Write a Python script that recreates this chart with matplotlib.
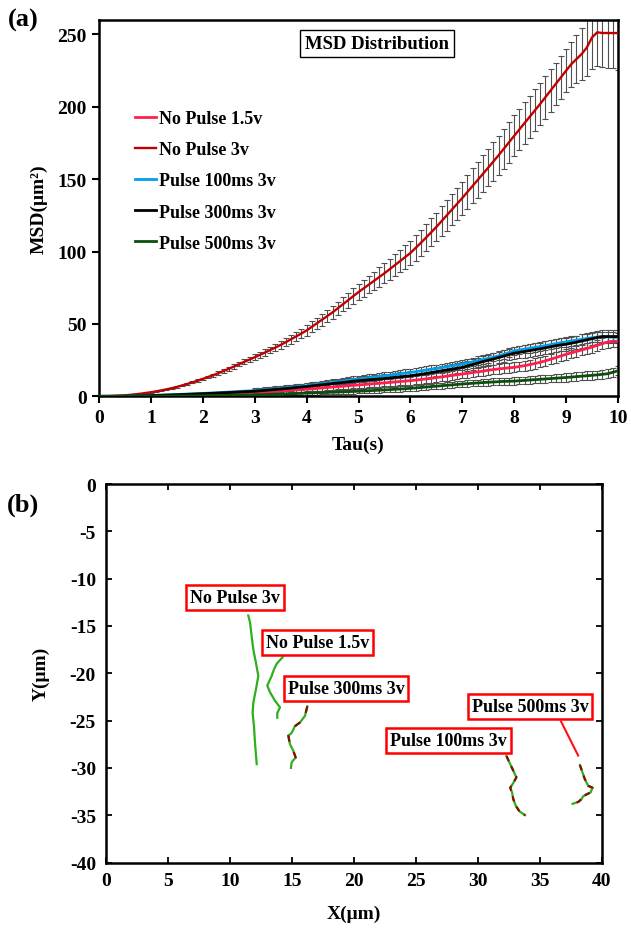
import numpy as np
import matplotlib
matplotlib.use("Agg")
import matplotlib.pyplot as plt

plt.rcParams['font.family'] = ['Liberation Serif', 'DejaVu Serif']
plt.rcParams['font.weight'] = 'bold'
plt.rcParams['axes.labelweight'] = 'bold'
plt.rcParams['axes.unicode_minus'] = False

# ---------------- Panel (a) data ----------------
tau = [round(0.1 * i, 1) for i in range(101)]

series_names = ["No Pulse 1.5v", "No Pulse 3v", "Pulse 100ms 3v", "Pulse 300ms 3v", "Pulse 500ms 3v"]
series_colors = ["#FF1F4F", "#C00000", "#00A0E8", "#000000", "#0B4F0B"]

msd_np15 = [0, 0.0, 0.01, 0.02, 0.04, 0.06, 0.09, 0.13, 0.18, 0.24,
            0.3, 0.37, 0.45, 0.53, 0.62, 0.72, 0.82, 0.93, 1.04, 1.12,
            1.2, 1.32, 1.45, 1.6, 1.76, 1.92, 2.1, 2.3, 2.5, 2.65,
            2.8, 2.98, 3.18, 3.4, 3.62, 3.84, 4.07, 4.3, 4.54, 4.77,
            5.0, 5.25, 5.5, 5.8, 6.1, 6.4, 6.7, 7.0, 7.3, 7.55,
            7.8, 8.1, 8.4, 8.7, 9.0, 9.3, 9.6, 9.9, 10.2, 10.5,
            10.8, 11.2, 11.6, 12.0, 12.4, 12.9, 13.4, 13.9, 14.4, 14.9,
            15.4, 15.9, 16.4, 16.9, 17.4, 18.0, 18.5, 18.9, 19.3, 19.7,
            20.0, 20.6, 21.2, 21.9, 22.7, 23.5, 24.5, 25.6, 26.7, 27.9,
            29.0, 30.0, 31.0, 32.0, 33.0, 34.0, 35.2, 36.4, 37.6, 38.0,
            38.0]

msd_np3 = [0, 0.03, 0.1, 0.25, 0.45, 0.7, 1.0, 1.4, 1.8, 2.3,
           2.8, 3.4, 4.1, 4.8, 5.6, 6.5, 7.5, 8.5, 9.6, 10.8,
           12.0, 13.3, 14.6, 16.0, 17.5, 19.0, 20.6, 22.2, 23.8, 25.4,
           27.0, 28.6, 30.3, 32.0, 33.7, 35.5, 37.4, 39.4, 41.4, 43.4,
           45.5, 48.0, 50.5, 53.0, 55.5, 58.0, 60.8, 63.6, 66.4, 69.2,
           72.0, 74.6, 77.2, 79.8, 82.4, 85.0, 87.8, 90.6, 93.4, 96.2,
           99.0, 102.5, 106.0, 109.6, 113.3, 117.0, 121.0, 125.0, 129.0, 133.0,
           137.0, 141.2, 145.4, 149.6, 153.8, 158.0, 162.3, 166.6, 171.0, 175.5,
           180.0, 184.4, 188.8, 193.2, 197.6, 202.0, 206.6, 211.2, 215.8, 220.4,
           225.0, 229.5, 233.0, 236.5, 241.0, 248.0, 251.5, 251.0, 251.0, 251.0,
           251.0]

msd_p100 = [0, 0.01, 0.03, 0.06, 0.1, 0.15, 0.22, 0.3, 0.4, 0.5,
            0.6, 0.72, 0.84, 0.97, 1.1, 1.24, 1.39, 1.54, 1.7, 1.85,
            2.0, 2.17, 2.35, 2.54, 2.73, 2.93, 3.13, 3.33, 3.54, 3.72,
            3.9, 4.2, 4.5, 4.8, 5.1, 5.45, 5.8, 6.15, 6.5, 6.9,
            7.3, 7.75, 8.2, 8.65, 9.1, 9.55, 10.0, 10.5, 11.0, 11.45,
            11.9, 12.35, 12.8, 13.25, 13.7, 14.15, 14.6, 15.1, 15.55, 16.0,
            16.5, 17.0, 17.55, 18.1, 18.65, 19.2, 19.8, 20.4, 21.0, 21.6,
            22.2, 23.0, 23.8, 24.6, 25.4, 26.2, 27.0, 28.0, 29.0, 30.2,
            31.4, 32.0, 32.6, 33.2, 33.8, 34.4, 35.0, 35.7, 36.4, 37.0,
            37.6, 38.2, 38.8, 39.4, 40.0, 40.5, 41.0, 41.1, 41.0, 40.8,
            40.6]

msd_p300 = [0, 0.01, 0.02, 0.05, 0.08, 0.12, 0.18, 0.25, 0.33, 0.41,
            0.5, 0.6, 0.7, 0.82, 0.95, 1.08, 1.22, 1.36, 1.5, 1.65,
            1.8, 1.95, 2.1, 2.26, 2.43, 2.6, 2.78, 2.97, 3.16, 3.33,
            3.5, 3.8, 4.1, 4.4, 4.7, 5.0, 5.35, 5.7, 6.05, 6.4,
            6.8, 7.2, 7.6, 8.0, 8.4, 8.8, 9.2, 9.6, 10.0, 10.4,
            10.8, 11.1, 11.4, 11.7, 12.0, 12.3, 12.7, 13.1, 13.5, 13.8,
            14.2, 14.7, 15.2, 15.8, 16.4, 17.0, 17.6, 18.2, 18.8, 19.4,
            20.0, 21.0, 22.0, 23.0, 24.0, 24.9, 25.8, 26.8, 27.8, 28.8,
            29.8, 30.4, 31.0, 31.6, 32.2, 32.8, 33.5, 34.2, 34.9, 35.5,
            36.0, 36.7, 37.4, 38.2, 39.0, 39.8, 40.6, 41.3, 41.3, 41.3,
            41.3]

msd_p500 = [0, 0, 0, 0.01, 0.02, 0.03, 0.04, 0.05, 0.07, 0.09,
            0.1, 0.12, 0.14, 0.17, 0.2, 0.23, 0.27, 0.31, 0.35, 0.38,
            0.4, 0.45, 0.5, 0.55, 0.6, 0.66, 0.72, 0.8, 0.87, 0.94,
            1.0, 1.1, 1.2, 1.3, 1.4, 1.5, 1.62, 1.75, 1.9, 2.05,
            2.2, 2.32, 2.44, 2.57, 2.7, 2.83, 2.96, 3.1, 3.23, 3.36,
            3.5, 3.68, 3.86, 4.04, 4.22, 4.4, 4.6, 4.85, 5.05, 5.25,
            5.5, 5.8, 6.1, 6.4, 6.7, 7.0, 7.3, 7.6, 7.9, 8.2,
            8.5, 8.75, 9.0, 9.25, 9.5, 9.7, 9.9, 10.1, 10.3, 10.4,
            10.5, 10.75, 11.0, 11.25, 11.5, 11.75, 12.0, 12.25, 12.5, 12.75,
            13.0, 13.3, 13.6, 13.9, 14.2, 14.5, 14.8, 15.2, 15.6, 16.6,
            17.6]

err_np3 = [0, 0, 0.01, 0.02, 0.04, 0.06, 0.08, 0.1, 0.13, 0.17,
           0.2, 0.25, 0.3, 0.35, 0.42, 0.5, 0.57, 0.65, 0.73, 0.82,
           0.9, 1.0, 1.1, 1.2, 1.3, 1.4, 1.5, 1.6, 1.7, 1.8,
           2.0, 2.1, 2.2, 2.4, 2.5, 2.7, 2.8, 3.0, 3.1, 3.3,
           3.5, 3.7, 3.9, 4.1, 4.3, 4.5, 4.7, 4.9, 5.1, 5.3,
           5.6, 5.8, 6.0, 6.3, 6.6, 6.9, 7.2, 7.5, 7.8, 8.1,
           8.4, 8.7, 9.0, 9.3, 9.6, 9.9, 10.2, 10.5, 10.8, 11.1,
           11.4, 11.7, 12.0, 12.3, 12.6, 12.9, 13.2, 13.5, 13.8, 14.0,
           14.2, 14.4, 14.5, 14.6, 14.6, 14.7, 14.7, 14.7, 14.7, 14.8,
           15.0, 15.5, 16.5, 18.0, 20.0, 22.0, 23.0, 23.5, 24.0, 24.5,
           25.5]

# lower series: error bars recorded from tau = 3.0 s onward
err_low_blue = [1.5, 1.5, 1.6, 1.6, 1.7, 1.7, 1.8, 1.8, 1.9, 1.9,
                2.0, 2.0, 2.0, 2.1, 2.1, 2.1, 2.2, 2.2, 2.2, 2.3,
                2.3, 2.3, 2.4, 2.4, 2.4, 2.5, 2.5, 2.5, 2.5, 2.6,
                2.6, 2.6, 2.6, 2.7, 2.7, 2.7, 2.7, 2.8, 2.8, 2.8,
                2.8, 2.8, 2.9, 2.9, 2.9, 2.9, 2.9, 3.0, 3.0, 3.0,
                3.0, 3.0, 3.0, 3.1, 3.1, 3.1, 3.1, 3.1, 3.2, 3.2,
                3.2, 3.2, 3.2, 3.3, 3.3, 3.3, 3.3, 3.3, 3.4, 3.4,
                3.4]
err_low_black = [1.6, 1.6, 1.7, 1.7, 1.8, 1.8, 1.9, 1.9, 2.0, 2.0,
                 2.1, 2.1, 2.2, 2.2, 2.3, 2.3, 2.4, 2.4, 2.5, 2.5,
                 2.6, 2.6, 2.7, 2.7, 2.8, 2.8, 2.9, 2.9, 3.0, 3.0,
                 3.1, 3.1, 3.2, 3.2, 3.3, 3.3, 3.4, 3.4, 3.5, 3.5,
                 3.6, 3.6, 3.7, 3.7, 3.8, 3.8, 3.9, 3.9, 4.0, 4.0,
                 4.1, 4.1, 4.2, 4.2, 4.3, 4.3, 4.4, 4.4, 4.5, 4.5,
                 4.5, 4.6, 4.6, 4.6, 4.7, 4.7, 4.7, 4.8, 4.8, 4.8,
                 4.8]
err_low_pink = [1.2, 1.2, 1.3, 1.3, 1.4, 1.4, 1.5, 1.5, 1.6, 1.6,
                1.7, 1.7, 1.8, 1.8, 1.9, 1.9, 2.0, 2.0, 2.1, 2.1,
                2.2, 2.2, 2.3, 2.3, 2.4, 2.4, 2.5, 2.5, 2.6, 2.6,
                2.7, 2.7, 2.8, 2.8, 2.9, 2.9, 3.0, 3.0, 3.0, 3.1,
                3.1, 3.1, 3.2, 3.2, 3.2, 3.3, 3.3, 3.3, 3.4, 3.4,
                3.4, 3.4, 3.5, 3.5, 3.5, 3.5, 3.6, 3.6, 3.6, 3.6,
                3.7, 3.7, 3.7, 3.7, 3.8, 3.8, 3.8, 3.8, 3.9, 3.9,
                3.9]
err_low_green = [0.8, 0.8, 0.9, 0.9, 1.0, 1.0, 1.0, 1.1, 1.1, 1.1,
                 1.2, 1.2, 1.2, 1.3, 1.3, 1.3, 1.4, 1.4, 1.4, 1.5,
                 1.5, 1.5, 1.6, 1.6, 1.6, 1.7, 1.7, 1.7, 1.8, 1.8,
                 1.8, 1.9, 1.9, 1.9, 2.0, 2.0, 2.0, 2.1, 2.1, 2.1,
                 2.2, 2.2, 2.2, 2.3, 2.3, 2.3, 2.4, 2.4, 2.4, 2.5,
                 2.5, 2.5, 2.6, 2.6, 2.6, 2.7, 2.7, 2.7, 2.8, 2.8,
                 2.8, 2.9, 2.9, 2.9, 3.0, 3.0, 3.0, 3.1, 3.1, 3.2,
                 3.2]

x_ticks_a = [0, 1, 2, 3, 4, 5, 6, 7, 8, 9, 10]
y_ticks_a = [0, 50, 100, 150, 200, 250]

# ---------------- Panel (b) data ----------------
traj_names = ["No Pulse 3v", "No Pulse 1.5v", "Pulse 300ms 3v", "Pulse 100ms 3v", "Pulse 500ms 3v"]
np3_x = [11.49, 11.63, 11.76, 11.90, 12.11, 12.30, 12.11, 11.90, 11.84, 11.95, 12.03, 12.17]
np3_y = [-13.9, -14.6, -16.05, -17.5, -18.9, -20.3, -21.7, -23.1, -24.2, -25.6, -27.3, -29.6]
np15_x = [14.26, 13.78, 13.56, 13.37, 13.02, 13.24, 13.64, 14.05, 13.83, 13.83]
np15_y = [-18.3, -19.0, -19.6, -20.3, -21.3, -22.0, -22.9, -23.6, -24.2, -24.7]
p300_x = [16.25, 16.06, 15.66, 15.25, 14.99, 14.72, 14.85, 15.12, 15.31, 14.99, 14.93]
p300_y = [-23.5, -24.5, -25.2, -25.6, -26.3, -26.6, -27.5, -28.2, -28.9, -29.4, -30.0]
p100_x = [32.3, 32.6, 32.85, 33.1, 32.85, 32.6, 32.75, 32.85, 33.05, 33.35, 33.8]
p100_y = [-28.75, -29.6, -30.3, -31.0, -31.6, -32.1, -32.6, -33.3, -34.0, -34.6, -35.0]
p500_x = [38.22, 38.43, 38.62, 38.89, 39.24, 39.08, 38.76, 38.48, 38.35, 38.08, 37.63]
p500_y = [-29.7, -30.5, -31.2, -31.9, -32.1, -32.6, -32.8, -33.0, -33.3, -33.6, -33.8]
label_x = [10.39, 17.05, 19.36, 27.61, 34.2]
label_y = [-12.03, -16.77, -21.57, -27.09, -23.47]
pointer_x = [36.7, 38.08]
pointer_y = [-25.1, -28.7]

x_ticks_b = [0, 5, 10, 15, 20, 25, 30, 35, 40]
y_ticks_b = [0, -5, -10, -15, -20, -25, -30, -35, -40]

# ---------------- Figure ----------------
W, H = 631, 929
fig = plt.figure(figsize=(W / 100, H / 100), dpi=100)

def frac(l, t, r, b):
    return [l / W, 1 - b / H, (r - l) / W, (b - t) / H]

axa = fig.add_axes(frac(99, 21, 618, 397.3))
axb = fig.add_axes(frac(105.7, 485, 602, 863.5))

tick_fs = 14
grey = "#505050"

# error bars
axa.errorbar(tau, msd_np3, yerr=err_np3, fmt='none', ecolor=grey, elinewidth=0.8,
             capsize=2.2, capthick=0.8, zorder=2)
tau_low = tau[30:]
for vals, errs in [(msd_p300, err_low_black), (msd_p100, err_low_blue),
                   (msd_np15, err_low_pink), (msd_p500, err_low_green)]:
    axa.errorbar(tau_low, vals[30:], yerr=errs, fmt='none', ecolor=grey, elinewidth=0.8,
                 capsize=2.2, capthick=0.8, zorder=2)

all_vals = [msd_np15, msd_np3, msd_p100, msd_p300, msd_p500]
lws = [2.0, 1.7, 2.0, 2.0, 2.0]
order = [4, 0, 2, 3, 1]
lines = {}
for i in order:
    ln, = axa.plot(tau, all_vals[i], color=series_colors[i], lw=lws[i], zorder=3 + i * 0.1,
                   label=series_names[i])
    lines[i] = ln

axa.set_xlim(0, 10)
axa.set_ylim(0, 260)
axa.set_xticks(x_ticks_a)
axa.set_yticks(y_ticks_a)
axa.tick_params(axis='both', direction='out', length=5, width=1.5, labelsize=tick_fs,
                top=False, right=False, pad=4)
for s in axa.spines.values():
    s.set_linewidth(1.8)
axa.set_xlabel("Tau(s)", fontsize=14, fontweight='bold')
axa.set_ylabel("MSD(\u03bcm\u00b2)", fontsize=14, fontweight='bold')
axa.xaxis.set_label_coords(0.5, -0.105)
axa.yaxis.set_label_coords(-0.098, 0.5)

leg = axa.legend([lines[i] for i in range(5)], series_names, loc='upper left',
                 bbox_to_anchor=(0.07, 0.76), frameon=False, fontsize=13,
                 handlelength=1.15, handletextpad=0.15, labelspacing=0.78, borderpad=0,
                 borderaxespad=0)
for t in leg.get_texts():
    t.set_fontweight('bold')

axa.text(0.536, 0.9376, "MSD Distribution", transform=axa.transAxes, ha='center', va='center',
         fontsize=13.5, fontweight='bold',
         bbox=dict(boxstyle='square,pad=0.25', facecolor='white', edgecolor='black', lw=1.0))

# panel b
green = "#2CB01C"
darkred = "#8B0A0A"
axb.plot(np3_x, np3_y, color=green, lw=1.6, zorder=3)
axb.plot(np15_x, np15_y, color=green, lw=1.6, zorder=3)
for xs, ys, dash in [(p300_x, p300_y, (3, 5)), (p100_x, p100_y, (2.5, 2.5)), (p500_x, p500_y, (2.5, 2.5))]:
    axb.plot(xs, ys, color=green, lw=1.6, zorder=3)
    axb.plot(xs, ys, color=darkred, lw=1.6, zorder=4, dashes=dash)
axb.plot(pointer_x, pointer_y, color='#FF1010', lw=1.5, zorder=3)

for name, lx, ly in zip(traj_names, label_x, label_y):
    axb.text(lx, ly, name, ha='center', va='center', fontsize=13, fontweight='bold', zorder=5,
             bbox=dict(boxstyle='square,pad=0.22', facecolor='white', edgecolor='#FF0000', lw=1.8))

axb.set_xlim(0, 40)
axb.set_ylim(-40, 0)
axb.set_xticks(x_ticks_b)
axb.set_yticks(y_ticks_b)
axb.tick_params(axis='both', direction='in', length=4, width=1.3, labelsize=tick_fs,
                top=True, right=True, pad=7)
for s in axb.spines.values():
    s.set_linewidth(1.8)
axb.set_xlabel("X(\u03bcm)", fontsize=14, fontweight='bold')
axb.set_ylabel("Y(\u03bcm)", fontsize=14, fontweight='bold')
axb.xaxis.set_label_coords(0.5, -0.112)
axb.yaxis.set_label_coords(-0.112, 0.5)

fig.text(23 / W, 1 - 20 / H, "(a)", ha='center', va='center', fontsize=19, fontweight='bold')
fig.text(23 / W, 1 - 505 / H, "(b)", ha='center', va='center', fontsize=19, fontweight='bold')

fig.savefig("out.png", dpi=100)
